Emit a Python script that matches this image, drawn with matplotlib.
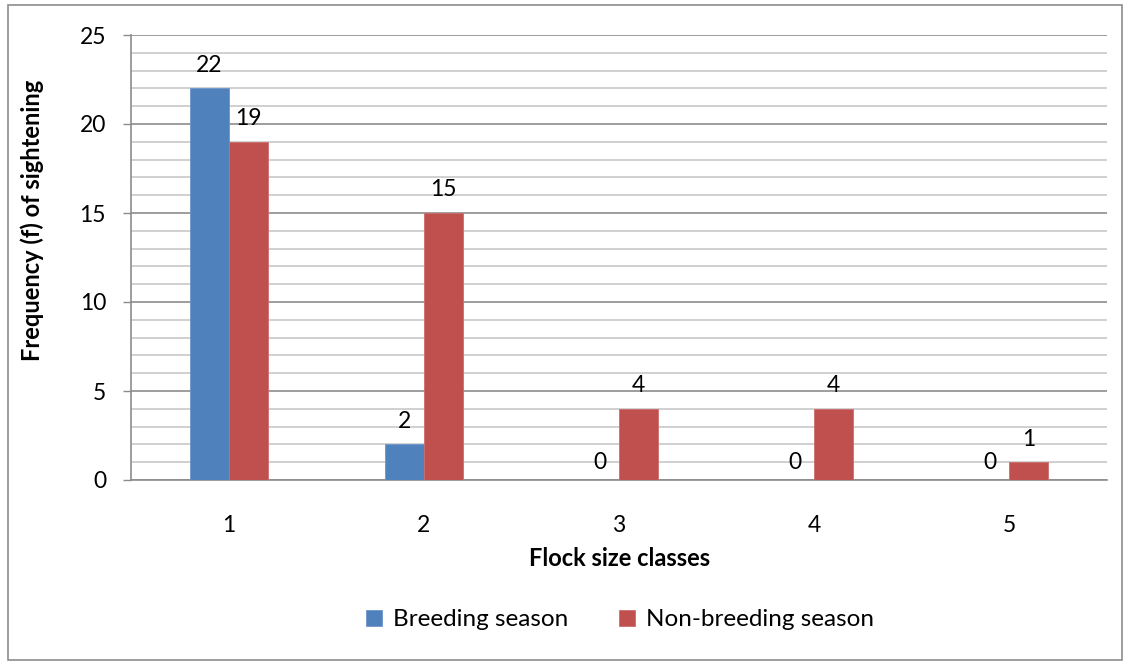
import numpy as np
import matplotlib.pyplot as plt
from matplotlib.patches import Rectangle
from matplotlib.ticker import MultipleLocator

plt.rcParams['font.family'] = ['Lato', 'DejaVu Sans']

classes = ['1', '2', '3', '4', '5']
breeding = [22, 2, 0, 0, 0]
non_breeding = [19, 15, 4, 4, 1]

fig = plt.figure(figsize=(11.28, 6.64), dpi=100)
ax = fig.add_axes([131 / 1128, 1 - 480 / 664, 976 / 1128, 445 / 664])

x = np.arange(len(classes))
w = 0.2
b1 = ax.bar(x - w / 2, breeding, w, color='#4F81BD', edgecolor='#6F95C8', linewidth=0.6,
            label='Breeding season', zorder=3)
b2 = ax.bar(x + w / 2, non_breeding, w, color='#C0504D', edgecolor='#CC6E6B', linewidth=0.6,
            label='Non-breeding season', zorder=3)

for bars, vals in [(b1, breeding), (b2, non_breeding)]:
    for rect, v in zip(bars, vals):
        off = 5 if v == 0 else 9
        ax.annotate(str(v), (rect.get_x() + rect.get_width() / 2, v),
                    xytext=(0, off), textcoords='offset points',
                    ha='center', va='bottom', fontsize=16.5)

ax.set_xlim(-0.5, 4.5)
ax.set_ylim(0, 25)
ax.set_xticks(x)
ax.set_xticklabels(classes)
ax.yaxis.set_major_locator(MultipleLocator(5))
ax.yaxis.set_minor_locator(MultipleLocator(1))
ax.grid(which='minor', axis='y', color='#C8C8C8', linewidth=1.2, zorder=0)
ax.grid(which='major', axis='y', color='#8C8C8C', linewidth=1.2, zorder=1)
ax.tick_params(axis='y', which='major', length=6, width=1, color='#8C8C8C',
               labelsize=16.5, pad=12)
ax.tick_params(axis='y', which='minor', length=0)
ax.tick_params(axis='x', length=0, labelsize=16.5, pad=25)

for s in ['top', 'right']:
    ax.spines[s].set_visible(False)
for s in ['left', 'bottom']:
    ax.spines[s].set_color('#8C8C8C')
    ax.spines[s].set_linewidth(1.2)

fig.text(620 / 1128, 1 - 559 / 664, 'Flock size classes', ha='center', va='center',
         fontsize=17, fontweight='bold')
fig.text(32 / 1128, 1 - 220 / 664, 'Frequency (f) of sightening', ha='center', va='center',
         rotation=90, fontsize=17, fontweight='bold')

fig.legend(handles=[b1, b2], loc='center', bbox_to_anchor=(620 / 1128, 1 - 620 / 664),
           ncol=2, frameon=False, fontsize=17.5, handlelength=0.65, handleheight=0.65,
           columnspacing=2.1, handletextpad=0.45)

fig.patches.append(Rectangle((8 / 1128, 4 / 664), 1114 / 1128, 655 / 664,
                             transform=fig.transFigure, fill=False,
                             edgecolor='#8C8C8C', linewidth=1.2))

fig.savefig('out.png', dpi=100)
